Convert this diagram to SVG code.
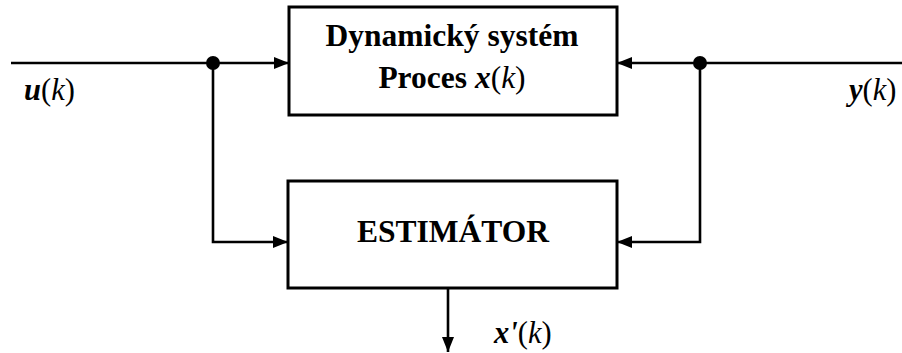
<svg xmlns="http://www.w3.org/2000/svg" width="902" height="353" viewBox="0 0 902 353">
<style>
.box{fill:#fff;stroke:#000;stroke-width:3}
.ln{fill:none;stroke:#000;stroke-width:2.6}
text{font-family:"Liberation Serif","Times New Roman",serif;fill:#000}
.t{font-size:31.5px;font-weight:bold;text-anchor:middle}
.lbl{font-size:30.5px}
.bi{font-weight:bold;font-style:italic}
.i{font-style:italic}
</style>
<defs>
<marker id="ah" markerWidth="15" markerHeight="12" refX="15" refY="6" orient="auto" markerUnits="userSpaceOnUse">
<path d="M0,0 L15,6 L0,12 Z" fill="#000"/>
</marker>
</defs>
<g id="connectors">
<path class="ln" d="M11,63 H289" marker-end="url(#ah)"/>
<path class="ln" d="M213,63 V242 H288" marker-end="url(#ah)"/>
<path class="ln" d="M902,63 H617" marker-end="url(#ah)"/>
<path class="ln" d="M700,63 V242 H617" marker-end="url(#ah)"/>
<path class="ln" d="M448,288 V352" marker-end="url(#ah)"/>
<circle cx="213" cy="63" r="7" fill="#000"/>
<circle cx="700" cy="63" r="7" fill="#000"/>
</g>
<g id="process">
<rect class="box" x="289" y="7" width="328" height="108"/>
<text class="t" x="452" y="46">Dynamický systém</text>
<text class="t" x="452" y="88">Proces <tspan class="bi">x</tspan><tspan font-weight="normal">(<tspan class="i">k</tspan>)</tspan></text>
</g>
<g id="estimator">
<rect class="box" x="288" y="181" width="329" height="107"/>
<text class="t" x="453" y="242">ESTIMÁTOR</text>
</g>
<g id="label-u">
<text class="lbl" x="24" y="100"><tspan class="bi">u</tspan>(<tspan class="i">k</tspan>)</text>
</g>
<g id="label-y">
<text class="lbl" x="849" y="100"><tspan class="bi">y</tspan>(<tspan class="i">k</tspan>)</text>
</g>
<g id="label-x">
<text class="lbl" x="494" y="343"><tspan class="bi">x'</tspan>(<tspan class="i">k</tspan>)</text>
</g>
</svg>
